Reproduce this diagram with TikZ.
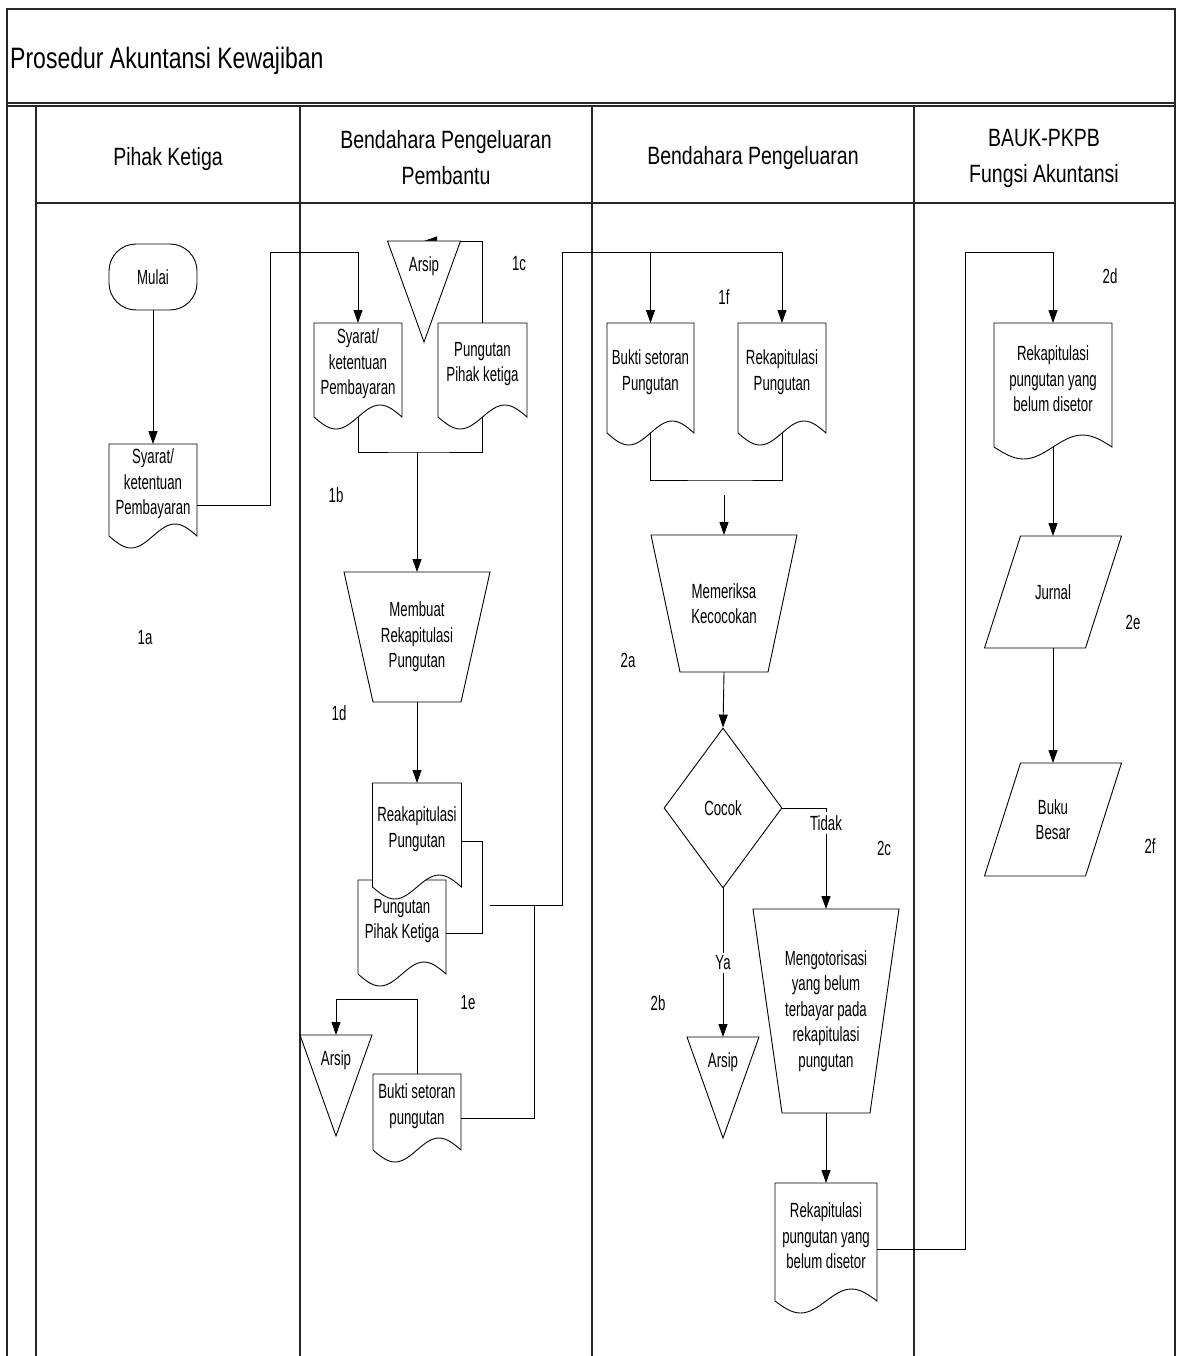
\documentclass[tikz,border=0pt]{standalone}
\usepackage{fontspec}
\setmainfont{Liberation Sans}[FakeStretch=0.78]
\newfontfamily\boxfont{Liberation Sans}[FakeStretch=0.645]
\usetikzlibrary{arrows.meta,calc,shapes.geometric,backgrounds}

\tikzset{
  frame/.style={line width=1.3pt, draw=black!85},
  shapeline/.style={line width=0.9pt},
  conn/.style={line width=0.9pt},
  arr/.style={conn, -{Triangle[length=13pt,width=9pt]}},
  txt/.style={font=\boxfont\fontsize{20.5}{25.5}\selectfont, align=center, inner sep=0pt},
  hdr/.style={font=\fontsize{25}{36}\selectfont, align=center, inner sep=0pt},
  anchorbox/.style={rectangle, inner sep=0pt, outer sep=0pt, draw=none},
  lbl/.style={txt},
  cut/.style={txt, fill=white, inner sep=3pt},
}

% document symbol: name, centre x, top y, width, height to wave axis, text
\newcommand{\docshape}[6]{%
  \node[anchorbox, anchor=north, minimum width=#4pt, minimum height=#5pt] (#1) at (#2,#3) {};
  \filldraw[shapeline, fill=white] (#1.south west) -- (#1.north west) -- (#1.north east) -- (#1.south east)
    sin ($(#1.south east)!0.25!(#1.south west)+(0,-12)$)
    cos (#1.south)
    sin ($(#1.south east)!0.75!(#1.south west)+(0,12)$)
    cos (#1.south west) -- cycle;
  \node[txt] (#1text) at ($(#1.center)+(0,-6)$) {#6};
}
% manual operation: name, centre x, top y, top width, height, inset, text
\newcommand{\trapshape}[7]{%
  \node[anchorbox, anchor=north, minimum width=#4pt, minimum height=#5pt] (#1) at (#2,#3) {};
  \filldraw[shapeline, fill=white] (#1.north west) -- (#1.north east)
    -- ($(#1.south east)+(-#6,0)$) -- ($(#1.south west)+(#6,0)$) -- cycle;
  \node[txt] (#1text) at (#1.center) {#7};
}
% input/output: name, centre x, top y, width, height, text
\newcommand{\ioshape}[6]{%
  \node[anchorbox, anchor=north, minimum width=#4pt, minimum height=#5pt] (#1) at (#2,#3) {};
  \filldraw[shapeline, fill=white] ($(#1.north west)+(18,0)$) -- ($(#1.north east)+(18,0)$)
    -- ($(#1.south east)+(-18,0)$) -- ($(#1.south west)+(-18,0)$) -- cycle;
  \node[txt] (#1text) at (#1.center) {#6};
}
% archive triangle: name, centre x, top y, width, height
\newcommand{\arsip}[5]{%
  \node[anchorbox, anchor=north, minimum width=#4pt, minimum height=50pt] (#1) at (#2,#3) {};
  \filldraw[shapeline, fill=white] (#1.north west) -- (#1.north east) -- ($(#1.north)+(0,#5)$) -- cycle;
  \node[txt] (#1text) at (#1.center) {Arsip};
}

\begin{document}
\begin{tikzpicture}[x=1pt,y=-1pt]
\useasboundingbox (0,0) rectangle (1178,1356);

% frame and swimlanes
\draw[frame] (7,1356) -- (7,9) -- (1175,9) -- (1175,1356);
\draw[frame] (7,103) -- (1175,103);
\draw[frame] (7,106) -- (1175,106);
\draw[frame] (36,106) -- (36,1356);
\draw[frame] (36,203) -- (1175,203);
\foreach \lx in {300,592,914} \draw[frame] (\lx,106) -- (\lx,1356);

\node[font=\fontsize{29.5}{34}\selectfont, anchor=base west, inner sep=0pt] (title) at (10,69) {Prosedur Akuntansi Kewajiban};
\node[hdr, anchor=base] (h1) at (168,166) {Pihak Ketiga};
\node[hdr] (h2) at (446,158) {Bendahara Pengeluaran\\Pembantu};
\node[hdr, anchor=base] (h3) at (753,165) {Bendahara Pengeluaran};
\node[hdr] (h4) at (1044,158) {BAUK-PKPB\\Fungsi Akuntansi};

% Pihak Ketiga
\node[draw, shapeline, rounded corners=27pt, minimum width=88pt, minimum height=66pt, txt] (mulai) at (153,277) {Mulai};
\docshape{d1}{153}{444}{88}{92}{Syarat/\\ketentuan\\Pembayaran}

% Bendahara Pengeluaran Pembantu
\docshape{d2}{358}{323}{88}{94}{Syarat/\\ketentuan\\Pembayaran}
\docshape{d3}{482.5}{323}{89}{94}{Pungutan\\Pihak ketiga}
\arsip{arsipa}{424}{241}{73}{101}
\trapshape{trapa}{417}{572}{146}{130}{29}{Membuat\\Rekapitulasi\\Pungutan}
\docshape{ppk}{402}{880}{88}{94}{Pungutan\\Pihak Ketiga}
\docshape{reak}{417}{783}{89}{104}{Reakapitulasi\\Pungutan}
\arsip{arsipb}{336}{1035}{72}{101}
\docshape{bsp}{417}{1074}{88}{76}{Bukti setoran\\pungutan}

% Bendahara Pengeluaran
\docshape{buktic}{650.5}{323}{87}{110}{Bukti setoran\\Pungutan}
\docshape{rekc}{782}{323}{88}{110}{Rekapitulasi\\Pungutan}
\trapshape{trapb}{724}{535}{146}{137}{29}{Memeriksa\\Kecocokan}
\node[diamond, draw, shapeline, minimum width=118pt, minimum height=160pt, txt] (cocok) at (723,808) {Cocok};
\arsip{arsipc}{723}{1037}{72}{101}
\trapshape{trapc}{826}{909}{146}{204}{29}{Mengotorisasi\\yang belum\\terbayar pada\\rekapitulasi\\pungutan}
\docshape{drek}{826}{1183}{102}{118}{Rekapitulasi\\pungutan yang\\belum disetor}

% BAUK-PKPB
\docshape{dd}{1053}{323}{118}{124}{Rekapitulasi\\pungutan yang\\belum disetor}
\ioshape{jurnal}{1053}{536}{101}{112}{Jurnal}
\ioshape{buku}{1053}{763}{101}{113}{Buku\\Besar}

% connectors
\coordinate (k1) at (270,252);
\coordinate (j1) at (417,452);
\coordinate (m1) at (490,905);
\coordinate (k2) at (562,252);
\coordinate (j2) at (534,905);
\coordinate (k3) at (336,999);
\coordinate (j3) at (724,480);
\coordinate (k4) at (724,495);
\coordinate (k6) at (965,252);

\draw[arr] (mulai.south) -- (d1.north);
\draw[arr] ([yshift=-15pt]d1.east) -| (k1) -| (d2.north);
\draw[conn] (d2.south) |- (j1) -| (d3.south);
\draw[arr] (j1) -- (trapa.north);
\begin{scope}[on background layer]
\draw[arr] (d3.north) |- (arsipa.north);
\end{scope}
\draw[arr] (trapa.south) -- (reak.north);
\draw[conn] ([yshift=-6pt]reak.east) -- ++(21,0) |- ([yshift=-6pt]ppk.east);
\draw[conn] (m1) -| (k2) -- (k2 -| rekc.north);
\draw[arr] (k2 -| buktic.north) -- (buktic.north);
\draw[arr] (k2 -| rekc.north) -- (rekc.north);
\draw[conn] ([yshift=-6pt]bsp.east) -| (j2);
\draw[arr] (bsp.north) |- (k3) -- (arsipb.north);

\draw[conn] (buktic.south) |- (j3) -| (rekc.south);
\draw[arr] (k4) -- (trapb.north);
\draw[arr] (trapb.south) -- (cocok.north);
\draw[arr] (cocok.east) -| (trapc.north);
\node[cut] (tidak) at (826,823) {Tidak};
\draw[arr] (cocok.south) -- (arsipc.north);
\node[cut] (ya) at (723,963) {Ya};
\draw[arr] (trapc.south) -- (drek.north);
\draw[arr] ([yshift=-7pt]drek.east) -| (k6) -| (dd.north);
\draw[arr] (dd.south) -- (jurnal.north);
\draw[arr] (jurnal.south) -- (buku.north);

% step numbers
\node[lbl] (l1a) at (145,638) {1a};
\node[lbl] (l1b) at (336,495) {1b};
\node[lbl] (l1c) at (519,264) {1c};
\node[lbl] (l1d) at (339,713) {1d};
\node[lbl] (l1e) at (468,1003) {1e};
\node[lbl] (l1f) at (724,297) {1f};
\node[lbl] (l2a) at (628,660) {2a};
\node[lbl] (l2b) at (658,1003) {2b};
\node[lbl] (l2c) at (884,848) {2c};
\node[lbl] (l2d) at (1110,276) {2d};
\node[lbl] (l2e) at (1133,622) {2e};
\node[lbl] (l2f) at (1150,846) {2f};
\end{tikzpicture}
\end{document}
